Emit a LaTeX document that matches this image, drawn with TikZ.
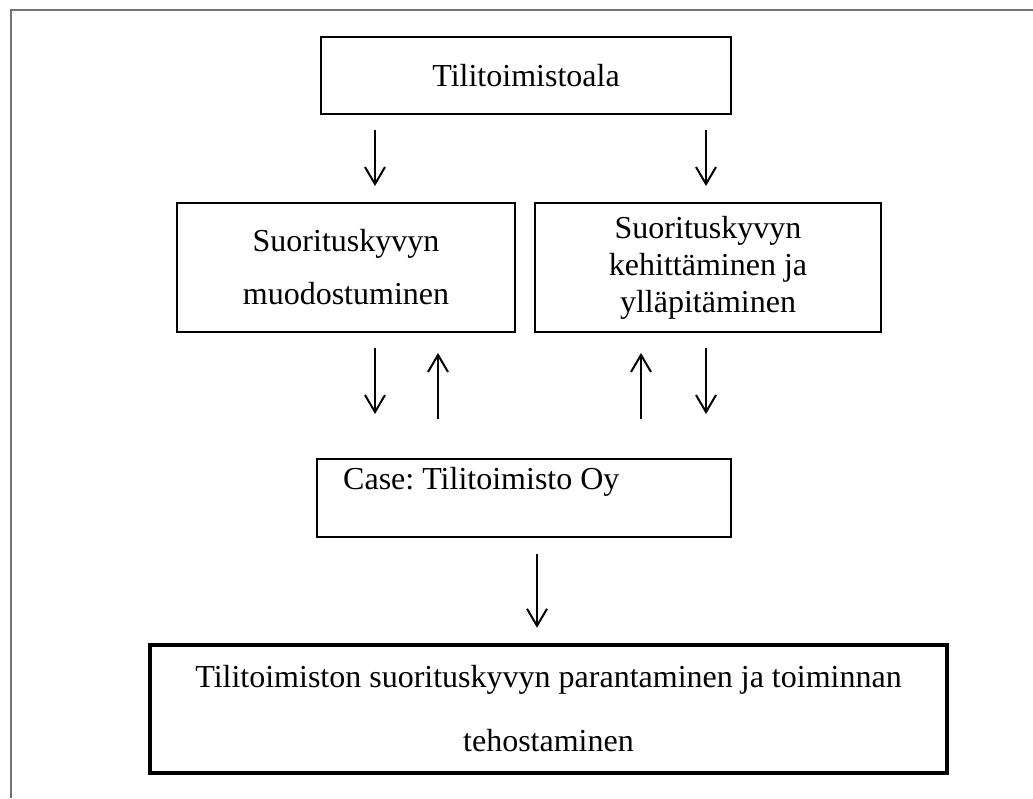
\documentclass[tikz,border=0pt]{standalone}
\usepackage{fontspec}
\setmainfont{Liberation Serif}
\usetikzlibrary{arrows.meta}
\frenchspacing
\begin{document}
\begin{tikzpicture}[x=1pt,y=-1pt,
  box/.style={draw=black, line width=2pt, inner sep=0pt, font=\fontsize{32}{37}\selectfont, align=center},
  thickbox/.style={box, line width=4.5pt},
  arr/.style={line width=2pt, -{Straight Barb[length=17pt, width=20pt, line width=2pt]}},
  frame/.style={draw=black!55, line width=2.2pt},
  txt/.style={inner sep=0pt, font=\fontsize{32}{37}\selectfont}]
\useasboundingbox (0,0) rectangle (1033,798);
\draw[frame] (1033,10) -- (11,10) -- (11,798);

\node[box, minimum width=410, minimum height=77] (top) at (526,75.5) {Tilitoimistoala};
\node[box, minimum width=338, minimum height=129, font=\fontsize{32}{53}\selectfont] (lft) at (346,267.5) {Suorituskyvyn\\muodostuminen};
\node[box, minimum width=346, minimum height=129] (rgt) at (708,267.5) {Suorituskyvyn\\kehittäminen ja\\ylläpitäminen};
\node[box, minimum width=414, minimum height=78] (case) at (524,498) {};
\node[txt, anchor=west] (casetxt) at (343,482) {Case: Tilitoimisto Oy};
\node[thickbox, minimum width=797, minimum height=128, font=\fontsize{32}{64}\selectfont] (bot) at (548.5,709) {Tilitoimiston suorituskyvyn parantaminen ja toiminnan\\tehostaminen};

\coordinate (xa) at (375,0);
\coordinate (xb) at (438,0);
\coordinate (xc) at (641,0);
\coordinate (xd) at (706,0);
\coordinate (xe) at (537,0);

\draw[arr, shorten <=15pt, shorten >=16pt] (top.south -| xa) -- (lft.north -| xa);
\draw[arr, shorten <=15pt, shorten >=16pt] (top.south -| xd) -- (rgt.north -| xd);
\draw[arr, shorten <=15pt, shorten >=44pt] (lft.south -| xa) -- (case.north -| xa);
\draw[arr, shorten <=39pt, shorten >=20pt] (case.north -| xb) -- (lft.south -| xb);
\draw[arr, shorten <=39pt, shorten >=20pt] (case.north -| xc) -- (rgt.south -| xc);
\draw[arr, shorten <=15pt, shorten >=44pt] (rgt.south -| xd) -- (case.north -| xd);
\draw[arr, shorten <=16pt, shorten >=15pt] (case.south -| xe) -- (bot.north -| xe);
\end{tikzpicture}
\end{document}
